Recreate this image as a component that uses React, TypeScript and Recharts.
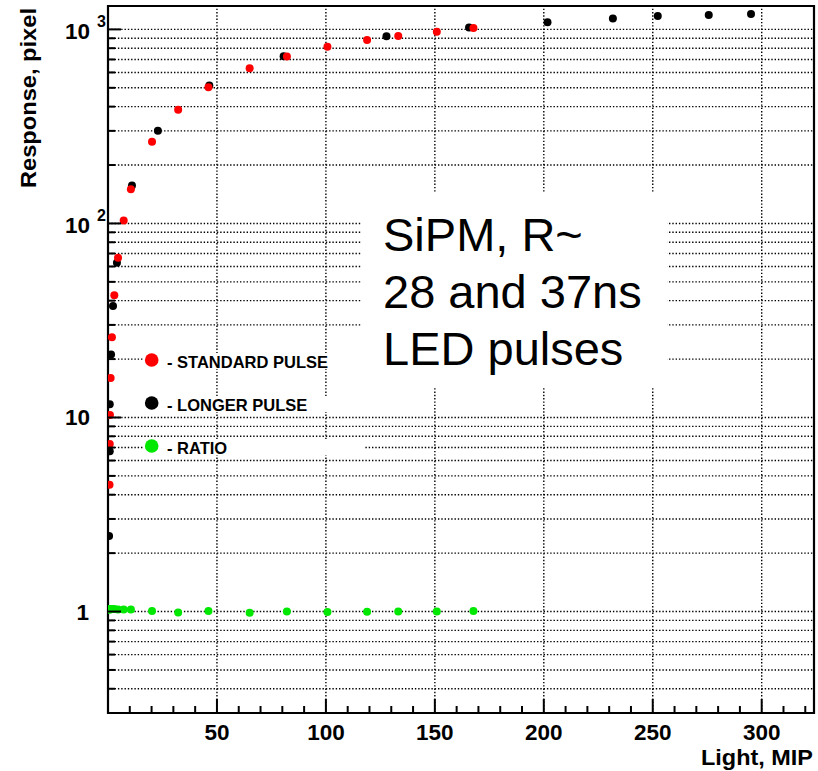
import React from 'react';
import { ScatterChart, Scatter, XAxis, YAxis, CartesianGrid, ReferenceLine, ReferenceArea } from 'recharts';

// ---- data ----
const stdLight = [0.7, 0.8, 0.9, 1.2, 1.8, 2.9, 4.6, 7.2, 10.5, 20.2, 32.2, 46.1, 65.0, 82.1, 100.7, 118.9, 133.2, 150.9, 167.7];
const stdResp = [4.5, 7.3, 10.3, 16.0, 25.9, 42.6, 66.5, 103.5, 150, 264, 385, 504, 631, 726, 813, 881, 926, 972, 1016];

const longLight = [0.5, 0.8, 0.8, 1.4, 2.3, 4.1, 11.0, 22.9, 46.5, 80.6, 127.8, 165.7, 201.7, 231.7, 252.3, 275.7, 295.1];
const longResp = [2.45, 6.7, 11.7, 21.1, 37.6, 62.7, 157, 300, 514, 728, 923, 1024, 1090, 1139, 1171, 1185, 1199];

const ratioLight = [0.7, 0.9, 1.2, 1.8, 2.9, 4.6, 7.2, 10.5, 20.2, 32.2, 46.1, 65.0, 82.1, 100.7, 118.9, 133.2, 150.9, 167.7];
const ratioValue = [1.02, 1.03, 1.03, 1.03, 1.03, 1.025, 1.025, 1.025, 1.007, 0.99, 1.007, 0.986, 1.0, 0.995, 0.998, 1.0, 1.0, 1.007];

const xTicks = [10, 20, 30, 40, 50, 60, 70, 80, 90, 100, 110, 120, 130, 140, 150, 160, 170, 180, 190, 200, 210, 220, 230, 240, 250, 260, 270, 280, 290, 300, 310, 320];
const xMajor = [50, 100, 150, 200, 250, 300];
const yTicks = [0.4, 0.5, 0.6, 0.7, 0.8, 0.9, 1, 2, 3, 4, 5, 6, 7, 8, 9, 10, 20, 30, 40, 50, 60, 70, 80, 90, 100, 200, 300, 400, 500, 600, 700, 800, 900, 1000];
const xDomain = [0, 324];
const yDomain = [0.3, 1320];

const legendLabels = ['- STANDARD PULSE', '- LONGER PULSE', '- RATIO'];
const noteLines = ['SiPM, R~', '28 and 37ns', 'LED pulses'];
const xTitle = 'Light, MIP';
const yTitle = 'Response, pixel';

const RED = '#ff0000';
const BLACK = '#000000';
const GREEN = '#00e800';
const FONT = '"Liberation Sans", Arial, Helvetica, sans-serif';

const zip = (xs: number[], ys: number[]) => xs.map((x, i) => ({ x, y: ys[i] }));
const stdData = zip(stdLight, stdResp);
const longData = zip(longLight, longResp);
const ratioData = zip(ratioLight, ratioValue);

const dot = (color: string) => (props: any) => (
  <circle cx={props.cx} cy={props.cy} r={4} fill={color} />
);

const XTick = (props: any) => {
  const { x, y, payload } = props;
  const v = payload.value;
  const major = v % 50 === 0;
  return (
    <g>
      <line x1={x} x2={x} y1={y} y2={y - (major ? 14 : 7)} stroke="#000" strokeWidth={2} />
      {major && (
        <text x={x} y={y + 27} textAnchor="middle" fontFamily={FONT} fontWeight="bold" fontSize={22.5} fill="#000">
          {v}
        </text>
      )}
    </g>
  );
};

const YTick = (props: any) => {
  const { x, y, payload } = props;
  const v = payload.value;
  const lg = Math.log10(v);
  const exp = Math.round(lg);
  const major = Math.abs(lg - exp) < 1e-9;
  let label: React.ReactNode = null;
  if (major) {
    if (exp === 0) label = <text x={x - 19} y={y + 8} textAnchor="end" fontFamily={FONT} fontWeight="bold" fontSize={22.5}>1</text>;
    else if (exp === 1) label = <text x={x - 18} y={y + 8} textAnchor="end" fontFamily={FONT} fontWeight="bold" fontSize={22.5}>10</text>;
    else
      label = (
        <g>
          <text x={x - 18} y={y + 10} textAnchor="end" fontFamily={FONT} fontWeight="bold" fontSize={22.5}>10</text>
          <text x={x - 11} y={y - 2.5} textAnchor="start" fontFamily={FONT} fontWeight="bold" fontSize={16}>{exp}</text>
        </g>
      );
  }
  return (
    <g>
      <line x1={x} x2={x + (major ? 13 : 7)} y1={y} y2={y} stroke="#000" strokeWidth={2} />
      {label}
    </g>
  );
};

const gridStyle = { stroke: '#000', strokeWidth: 1.4, strokeDasharray: '1.4 1.9' };

export default function App() {
  const legendColors = [RED, BLACK, GREEN];
  const legendY = [360, 403, 446];
  return (
    <div style={{ position: 'absolute', left: 0, top: 0, width: 818, height: 771, background: '#fff' }}>
      <ScatterChart width={818} height={771} margin={{ top: 6, right: 4, bottom: 0, left: 0 }}>
        <CartesianGrid horizontal={true} vertical={false} {...gridStyle} />
        <XAxis
          type="number"
          dataKey="x"
          domain={xDomain}
          ticks={xTicks}
          interval={0}
          allowDataOverflow
          height={58}
          tickSize={0}
          tickMargin={0}
          tickLine={false}
          axisLine={false}
          tick={<XTick />}
        />
        <YAxis
          type="number"
          dataKey="y"
          scale="log"
          domain={yDomain}
          ticks={yTicks}
          interval={0}
          allowDataOverflow
          width={108}
          tickSize={0}
          tickMargin={0}
          tickLine={false}
          axisLine={false}
          tick={<YTick />}
        />
        {xMajor.map((v) => (
          <ReferenceLine key={v} x={v} {...gridStyle} />
        ))}
        <Scatter data={longData} isAnimationActive={false} shape={dot(BLACK)} />
        <Scatter data={stdData} isAnimationActive={false} shape={dot(RED)} />
        <Scatter data={ratioData} isAnimationActive={false} shape={dot(GREEN)} />
        <ReferenceArea
          x1={xDomain[0]}
          x2={xDomain[1]}
          y1={yDomain[0]}
          y2={yDomain[1]}
          fill="none"
          fillOpacity={0}
          stroke="#000"
          strokeWidth={2.2}
          ifOverflow="visible"
        />
      </ScatterChart>
      <svg width={818} height={771} style={{ position: 'absolute', left: 0, top: 0, pointerEvents: 'none' }}>
        {/* text box */}
        <rect x={362} y={193} width={305} height={194} fill="#fff" />
        {noteLines.map((t, i) => (
          <text key={t} x={383} y={251 + i * 57} fontFamily={FONT} fontSize={47} fill="#000">
            {t}
          </text>
        ))}
        {/* legend */}
        {legendLabels.map((t, i) => (
          <g key={t}>
            <rect x={143} y={legendY[i] - 7} width={222} height={16} fill="#fff" />
            <circle cx={151.7} cy={legendY[i]} r={6.8} fill={legendColors[i]} />
            <text x={167} y={legendY[i] + 8} fontFamily={FONT} fontWeight="bold" fontSize={16.5} fill="#000">
              {t}
            </text>
          </g>
        ))}
        {/* axis titles */}
        <text
          x={813}
          y={765}
          textAnchor="end"
          fontFamily={FONT}
          fontWeight="bold"
          fontSize={22}
          textLength={112}
          lengthAdjust="spacingAndGlyphs"
        >
          {xTitle}
        </text>
        <text
          transform="translate(36,8) rotate(-90)"
          x={0}
          y={0}
          textAnchor="end"
          fontFamily={FONT}
          fontWeight="bold"
          fontSize={22}
          textLength={180}
          lengthAdjust="spacingAndGlyphs"
        >
          {yTitle}
        </text>
      </svg>
    </div>
  );
}
